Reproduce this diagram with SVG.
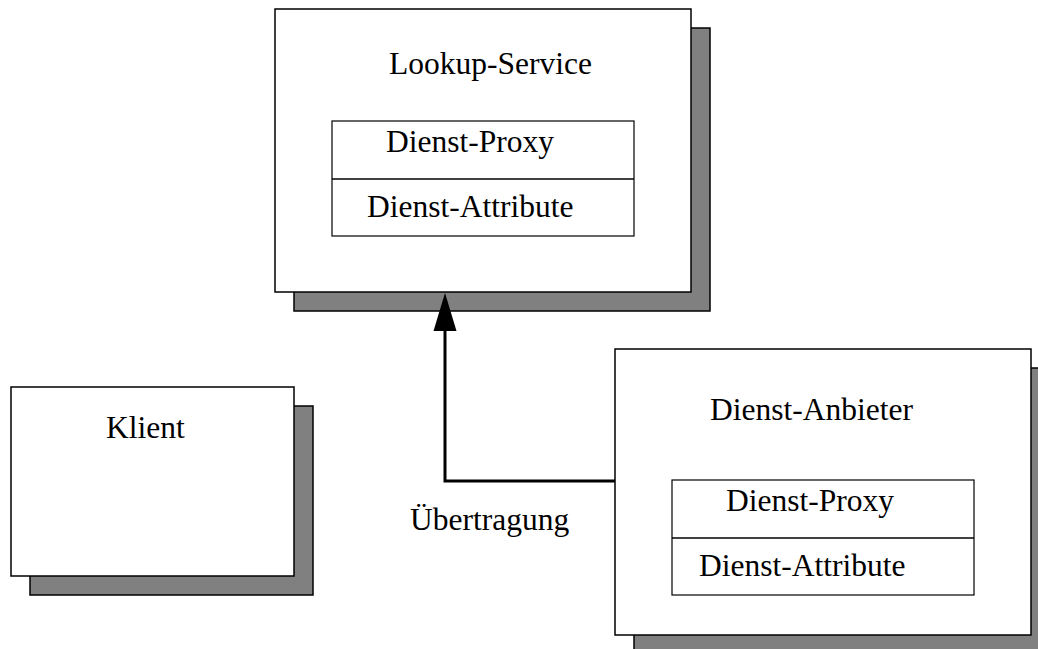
<svg xmlns="http://www.w3.org/2000/svg" width="1038" height="649" viewBox="0 0 1038 649">
  <style>
    .shadow { fill: #808080; stroke: #000; stroke-width: 1.5; }
    .box { fill: #fff; stroke: #000; stroke-width: 1.5; }
    .inner { fill: #fff; stroke: #000; stroke-width: 1.2; }
    .label { font-family: "Liberation Serif", "Times New Roman", serif; font-size: 31.5px; fill: #000; }
    .conn { fill: none; stroke: #000; stroke-width: 3; }
  </style>
  <defs>
    <marker id="arrow" markerUnits="userSpaceOnUse" markerWidth="24" markerHeight="40" refX="38" refY="12" orient="auto" viewBox="0 0 40 24">
      <path d="M0,0 L38,12 L0,24 Z" fill="#000"/>
    </marker>
  </defs>
  <rect width="1038" height="649" fill="#fff"/>

  <!-- Lookup service with stored proxy and attributes -->
  <g id="lookup-service">
    <rect class="shadow" x="294" y="28" width="416" height="283"/>
    <rect class="box" x="275" y="9" width="416" height="283"/>
    <text class="label" x="389" y="74">Lookup-Service</text>
    <rect class="inner" x="332" y="121" width="302" height="115"/>
    <line x1="332" y1="179" x2="634" y2="179" stroke="#000" stroke-width="1.5"/>
    <text class="label" x="386" y="152">Dienst-Proxy</text>
    <text class="label" x="367" y="217">Dienst-Attribute</text>
  </g>

  <!-- Client -->
  <g id="klient">
    <rect class="shadow" x="30" y="406" width="283" height="189"/>
    <rect class="box" x="11" y="387" width="283" height="189"/>
    <text class="label" x="106" y="438">Klient</text>
  </g>

  <!-- Service provider -->
  <g id="dienst-anbieter">
    <rect class="shadow" x="634" y="368" width="416" height="286"/>
    <rect class="box" x="615" y="349" width="416" height="286"/>
    <text class="label" x="710" y="420">Dienst-Anbieter</text>
    <rect class="inner" x="672" y="480" width="302" height="115"/>
    <line x1="672" y1="538" x2="974" y2="538" stroke="#000" stroke-width="1.5"/>
    <text class="label" x="726" y="511">Dienst-Proxy</text>
    <text class="label" x="699" y="576">Dienst-Attribute</text>
  </g>

  <!-- Registration: provider transfers proxy to lookup service -->
  <g id="connectors">
    <path class="conn" d="M615,481 L445,481 L445,330"/>
    <path d="M445,293 L433.5,331 L456.5,331 Z" fill="#000"/>
    <text class="label" x="410" y="530">Übertragung</text>
  </g>
</svg>
